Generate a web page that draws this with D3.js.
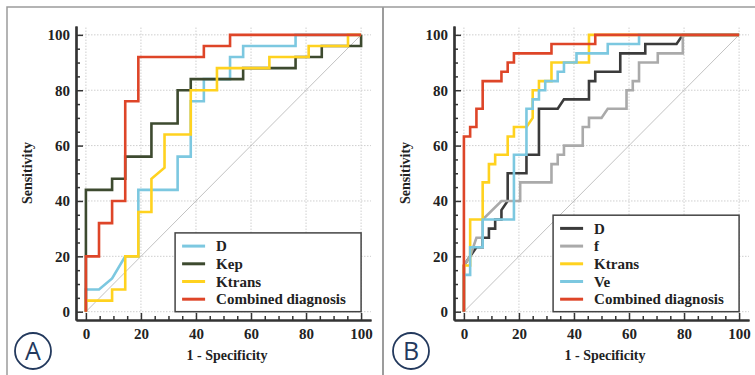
<!DOCTYPE html>
<html>
<head>
<meta charset="utf-8">
<script src="https://cdn.jsdelivr.net/npm/d3@7"></script>
<style>
  body { margin: 0; background: #fff; }
  svg { display: block; }
</style>
</head>
<body>
<script>
// axis ticks (both axes, both panels)
const majorTicks = [0, 20, 40, 60, 80, 100];
const minorTicks = [5, 10, 15, 25, 30, 35, 45, 50, 55, 65, 70, 75, 85, 90, 95];

// panel A: [1 - specificity, sensitivity]
const aD = [[0,0],[0,8],[4.76,8],[9.52,12],[14.29,20],[19.05,20],[19.05,44],[33.33,44],[33.33,56],[38.1,56],[38.1,76],[42.86,76],[42.86,84],[52.38,84],[52.38,92],[57.14,92],[57.14,96],[76.19,96],[76.19,100],[100,100]];
const aKep = [[0,0],[0,44],[9.52,44],[9.52,48],[14.29,48],[14.29,56],[23.81,56],[23.81,68],[33.33,68],[33.33,80],[38.1,80],[38.1,84],[57.14,84],[57.14,88],[76.19,88],[76.19,92],[85.71,92],[85.71,96],[100,96],[100,100]];
const aKtrans = [[0,0],[0,4],[9.52,4],[9.52,8],[14.29,8],[14.29,20],[19.05,20],[19.05,36],[23.81,36],[23.81,48],[28.57,52],[28.57,64],[38.1,64],[38.1,80],[47.62,80],[47.62,88],[66.67,88],[66.67,92],[80.95,92],[80.95,96],[95.24,96],[95.24,100],[100,100]];
const aCombined = [[0,0],[0,20],[4.76,20],[4.76,32],[9.52,32],[9.52,40],[14.29,40],[14.29,76],[19.05,76],[19.05,92],[42.86,92],[42.86,96],[52.38,96],[52.38,100],[100,100]];

// panel B
const bD = [[0,0],[0,16.7],[2.27,20],[4.55,23.3],[6.82,23.3],[6.82,26.7],[9.09,26.7],[9.09,30],[11.36,30],[11.36,33.3],[13.64,33.3],[13.64,36.7],[15.91,40],[15.91,50],[22.73,50],[22.73,56.7],[27.27,56.7],[27.27,73.3],[34.09,73.3],[36.36,76.7],[45.45,76.7],[45.45,83.3],[47.73,83.3],[47.73,86.7],[56.82,86.7],[56.82,93.3],[65.91,93.3],[65.91,96.7],[77.27,96.7],[79.55,100],[100,100]];
const bF = [[0,0],[0,16.7],[2.27,20],[4.55,26.7],[6.82,26.7],[6.82,33.3],[13.64,40],[20.45,40],[20.45,46.7],[31.82,46.7],[31.82,53.3],[34.09,53.3],[34.09,56.7],[36.36,56.7],[36.36,60],[43.18,60],[43.18,66.7],[45.45,66.7],[45.45,70],[50,70],[52.27,73.3],[59.09,73.3],[59.09,80],[61.36,80],[61.36,83.3],[63.64,83.3],[63.64,90],[70.45,90],[70.45,93.3],[79.55,93.3],[79.55,100],[100,100]];
const bKtrans = [[0,0],[0,16.7],[2.27,16.7],[2.27,33.3],[6.82,33.3],[6.82,46.7],[9.09,46.7],[9.09,53.3],[11.36,53.3],[11.36,56.7],[15.91,56.7],[15.91,63.3],[18.18,63.3],[18.18,66.7],[22.73,66.7],[25,70],[25,80],[27.27,80],[27.27,83.3],[31.82,83.3],[31.82,90],[45.45,90],[45.45,100],[100,100]];
const bVe = [[0,0],[0,13.3],[2.27,13.3],[2.27,23.3],[6.82,23.3],[6.82,33.3],[18.18,33.3],[18.18,56.7],[22.73,56.7],[22.73,73.3],[25,73.3],[25,76.7],[27.27,76.7],[27.27,80],[29.55,80],[29.55,83.3],[34.09,83.3],[34.09,86.7],[36.36,86.7],[36.36,90],[40.91,90],[40.91,93.3],[52.27,93.3],[52.27,96.7],[63.64,96.7],[63.64,100],[100,100]];
const bCombined = [[0,0],[0,63.3],[2.27,63.3],[2.27,66.7],[4.55,66.7],[4.55,73.3],[6.82,73.3],[6.82,83.3],[13.64,83.3],[13.64,86.7],[15.91,86.7],[15.91,90],[18.18,90],[18.18,93.3],[31.82,93.3],[31.82,96.7],[47.73,96.7],[47.73,100],[100,100]];

const seriesA = [
  { name: "D", color: "#7cc8e0", values: aD },
  { name: "Kep", color: "#3d4a2f", values: aKep },
  { name: "Ktrans", color: "#ffd21f", values: aKtrans },
  { name: "Combined diagnosis", color: "#de4528", values: aCombined }
];
const seriesB = [
  { name: "D", color: "#3b3b3b", values: bD },
  { name: "f", color: "#aaaaaa", values: bF },
  { name: "Ktrans", color: "#ffd21f", values: bKtrans },
  { name: "Ve", color: "#7cc8e0", values: bVe },
  { name: "Combined diagnosis", color: "#de4528", values: bCombined }
];

const W = 755, H = 375;
const serif = "'Liberation Serif', 'Times New Roman', serif";
const navy = "#23395d";

const svg = d3.select("body").append("svg")
  .attr("width", W)
  .attr("height", H);

// outer frame and panel divider
svg.append("path")
  .attr("d", `M7,${H}V7H${W}`)
  .attr("fill", "none")
  .attr("stroke", "#9c9c9c")
  .attr("stroke-width", 1.5);
svg.append("line")
  .attr("x1", 383).attr("x2", 383)
  .attr("y1", 7).attr("y2", H)
  .attr("stroke", "#9c9c9c")
  .attr("stroke-width", 2);

function drawPanel(dx, series, letter) {
  const g = svg.append("g").attr("transform", `translate(${dx},0)`);

  const x = d3.scaleLinear().domain([-3.6, 103.6]).range([76, 371]);
  const y = d3.scaleLinear().domain([-3, 103.2]).range([320, 26]);

  // dotted grid
  g.append("g").selectAll("line")
    .data(majorTicks)
    .join("line")
      .attr("x1", d => x(d)).attr("x2", d => x(d))
      .attr("y1", y.range()[0]).attr("y2", y.range()[1])
      .attr("stroke", "#cfcfcf")
      .attr("stroke-width", 1)
      .attr("stroke-dasharray", "1.5,1.5");
  g.append("g").selectAll("line")
    .data(majorTicks)
    .join("line")
      .attr("y1", d => y(d)).attr("y2", d => y(d))
      .attr("x1", x.range()[0]).attr("x2", x.range()[1])
      .attr("stroke", "#cfcfcf")
      .attr("stroke-width", 1)
      .attr("stroke-dasharray", "1.5,1.5");

  // chance diagonal
  g.append("line")
    .attr("x1", x(0)).attr("y1", y(0))
    .attr("x2", x(100)).attr("y2", y(100))
    .attr("stroke", "#b3b3b3")
    .attr("stroke-width", 0.8);

  // axes, ticks pointing inward
  const styleAxis = sel => {
    sel.selectAll(".domain").attr("stroke", "#333").attr("stroke-width", 2.2);
    sel.selectAll(".tick line").attr("stroke", "#333").attr("stroke-width", 1.5);
    sel.selectAll("text")
      .attr("fill", "#222")
      .style("font-family", serif)
      .style("font-weight", "bold")
      .style("font-size", "15px");
  };

  g.append("g")
    .attr("transform", `translate(${x.range()[0]},0)`)
    .call(d3.axisLeft(y).tickValues(minorTicks).tickSize(-4).tickSizeOuter(0).tickFormat(""))
    .call(styleAxis);
  g.append("g")
    .attr("transform", `translate(${x.range()[0]},0)`)
    .call(d3.axisLeft(y).tickValues(majorTicks).tickSize(-7).tickSizeOuter(0).tickPadding(6))
    .call(styleAxis);

  g.append("g")
    .attr("transform", `translate(0,${y.range()[0]})`)
    .call(d3.axisBottom(x).tickValues(minorTicks).tickSize(-4).tickSizeOuter(0).tickFormat(""))
    .call(styleAxis);
  g.append("g")
    .attr("transform", `translate(0,${y.range()[0]})`)
    .call(d3.axisBottom(x).tickValues(majorTicks).tickSize(-7).tickSizeOuter(0).tickPadding(8))
    .call(styleAxis);

  // axis titles
  g.append("text")
    .attr("transform", `translate(27,${(y.range()[0] + y.range()[1]) / 2}) rotate(-90)`)
    .attr("text-anchor", "middle")
    .attr("dy", "0.35em")
    .style("font-family", serif)
    .style("font-weight", "bold")
    .style("font-size", "14px")
    .attr("fill", "#222")
    .text("Sensitivity");
  g.append("text")
    .attr("x", 227)
    .attr("y", 360)
    .attr("text-anchor", "middle")
    .style("font-family", serif)
    .style("font-weight", "bold")
    .style("font-size", "14px")
    .attr("fill", "#222")
    .text("1 - Specificity");

  // ROC step curves
  const line = d3.line()
    .x(d => x(d[0]))
    .y(d => y(d[1]));

  g.append("g").selectAll("path")
    .data(series)
    .join("path")
      .attr("d", d => line(d.values))
      .attr("fill", "none")
      .attr("stroke", d => d.color)
      .attr("stroke-width", 2.6);

  // legend in bottom-right corner
  const rowH = 17.7;
  const legW = 186;
  const legH = series.length * rowH + 8;
  const legX = x(100) - legW;
  const legY = y(0) - legH;
  const leg = g.append("g").attr("transform", `translate(${legX},${legY})`);
  leg.append("rect")
    .attr("width", legW)
    .attr("height", legH)
    .attr("fill", "#fff")
    .attr("stroke", "#444")
    .attr("stroke-width", 1.5);
  const rows = leg.selectAll("g.row")
    .data(series)
    .join("g")
      .attr("class", "row")
      .attr("transform", (d, i) => `translate(0,${13.2 + i * rowH})`);
  rows.append("line")
    .attr("x1", 7).attr("x2", 30)
    .attr("stroke", d => d.color)
    .attr("stroke-width", 3);
  rows.append("text")
    .attr("x", 41)
    .attr("dy", "0.35em")
    .style("font-family", serif)
    .style("font-weight", "bold")
    .style("font-size", "15px")
    .attr("fill", "#222")
    .text(d => d.name);

  // panel letter
  g.append("circle")
    .attr("cx", 33).attr("cy", 351).attr("r", 18)
    .attr("fill", "#fff")
    .attr("stroke", navy)
    .attr("stroke-width", 1.8);
  g.append("text")
    .attr("x", 33).attr("y", 351)
    .attr("dy", "0.36em")
    .attr("text-anchor", "middle")
    .style("font-family", "'Open Sans', 'Noto Sans', sans-serif")
    .style("font-size", "25px")
    .attr("fill", navy)
    .text(letter);
}

drawPanel(0, seriesA, "A");
drawPanel(378, seriesB, "B");
</script>
</body>
</html>
